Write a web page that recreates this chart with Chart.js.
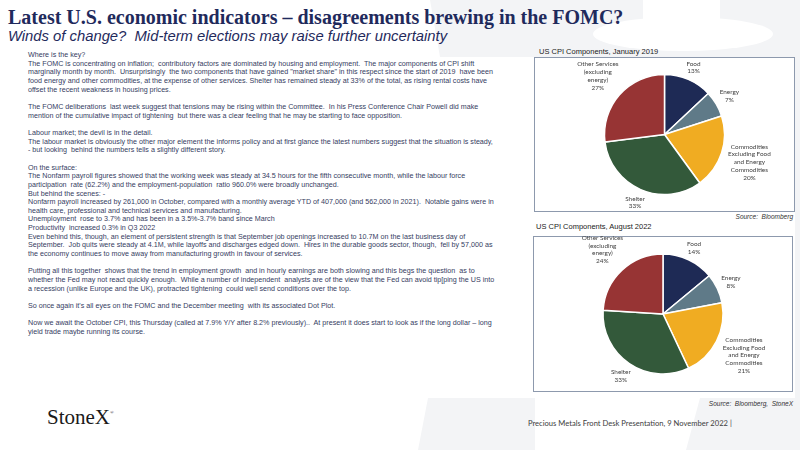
<!DOCTYPE html>
<html>
<head>
<meta charset="utf-8">
<script src="https://cdn.jsdelivr.net/npm/chart.js@4.4.0/dist/chart.umd.min.js"></script>
<style>
  html, body { margin: 0; padding: 0; }
  body { width: 800px; height: 450px; position: relative; overflow: hidden; background: #fff; }
  .abs { position: absolute; white-space: pre; }
  #title { left: 8px; top: 6px; font: bold 20px "Liberation Serif", serif; color: #1f2a5c; }
  #subtitle { left: 8px; top: 28px; font: italic 14.8px "Liberation Sans", Arial, sans-serif; color: #1f2a5c; }
  #body { left: 28px; top: 51px; font: 7.17px "Liberation Sans", Arial, sans-serif; line-height: 8.66px; color: #36405f; }
  .ctitle { font: 7.5px "Liberation Sans", Arial, sans-serif; color: #222; }
  .box { position: absolute; border: 1px solid #8d99ad; background: #fff; box-sizing: border-box; }
  .src { font: italic 6.5px "Liberation Sans", Arial, sans-serif; color: #333; text-align: right; }
  #logo { left: 47px; top: 405px; font: 21px "Liberation Serif", serif; color: #1a1a1a; }
  #logo sup { font-size: 5px; vertical-align: 10px; }
  #footer { left: 528px; top: 418px; font: 7.6px Lato, sans-serif; color: #404040; }
  canvas { position: absolute; }
</style>
</head>
<body>
<svg class="abs" style="left:0;top:0" width="800" height="450">
  <path d="M430 0 L800 0 L800 57 L440 57 Z" fill="#f3f4f6"/>
  <rect x="643" y="0" width="77" height="22" fill="#fff"/>
  <ellipse cx="683" cy="34" rx="90" ry="17" fill="#fff"/>
  <path d="M418 450 L428 398 L535 398 L535 450 Z" fill="#f3f4f6"/>
  <path d="M686 450 L700 398 L800 398 L800 450 Z" fill="#f3f4f6"/>
  <rect x="795" y="0" width="5" height="450" fill="#f3f4f6"/>
</svg>

<div class="abs" id="title">Latest U.S. economic indicators – disagreements brewing in the FOMC?</div>
<div class="abs" id="subtitle">Winds of change?  Mid-term elections may raise further uncertainty</div>

<div class="abs" id="body">Where is the key?
The FOMC is concentrating on inflation;  contributory factors are dominated by housing and employment.  The major components of CPI shift
marginally month by month.  Unsurprisingly  the two components that have gained "market share" in this respect since the start of 2019  have been
food energy and other commodities, at the expense of other services. Shelter has remained steady at 33% of the total, as rising rental costs have
offset the recent weakness in housing prices.

The FOMC deliberations  last week suggest that tensions may be rising within the Committee.  In his Press Conference Chair Powell did make
mention of the cumulative impact of tightening  but there was a clear feeling that he may be starting to face opposition.

Labour market; the devil is in the detail.
The labour market is obviously the other major element the informs policy and at first glance the latest numbers suggest that the situation is steady,
- but looking  behind the numbers tells a slightly different story.

On the surface:
The Nonfarm payroll figures showed that the working week was steady at 34.5 hours for the fifth consecutive month, while the labour force
participation  rate (62.2%) and the employment-population  ratio 960.0% were broadly unchanged.
But behind the scenes: -
Nonfarm payroll increased by 261,000 in October, compared with a monthly average YTD of 407,000 (and 562,000 in 2021).  Notable gains were in
health care, professional and technical services and manufacturing.
Unemployment  rose to 3.7% and has been in a 3.5%-3.7% band since March
Productivity  increased 0.3% in Q3 2022
Even behind this, though, an element of persistent strength is that September job openings increased to 10.7M on the last business day of
September.  Job quits were steady at 4.1M, while layoffs and discharges edged down.  Hires in the durable goods sector, though,  fell by 57,000 as
the economy continues to move away from manufacturing growth in favour of services.

Putting all this together  shows that the trend in employment growth  and in hourly earnings are both slowing and this begs the question  as to
whether the Fed may not react quickly enough.  While a number of independent  analysts are of the view that the Fed can avoid tip[ping the US into
a recession (unlike Europe and the UK), protracted tightening  could well send conditions over the top.

So once again it's all eyes on the FOMC and the December meeting  with its associated Dot Plot.

Now we await the October CPI, this Thursday (called at 7.9% Y/Y after 8.2% previously)..  At present it does start to look as if the long dollar – long
yield trade maybe running its course.</div>

<div class="abs ctitle" style="left:539px;top:47px">US CPI Components, January 2019</div>
<div class="box" style="left:534px;top:57px;width:261px;height:155px"></div>
<canvas id="pie2019" width="261" height="155" style="left:534px;top:57px;width:261px;height:155px"></canvas>
<div class="abs src" style="right:7px;top:213px">Source:  Bloomberg</div>

<div class="abs ctitle" style="left:536px;top:222px">US CPI Components, August 2022</div>
<div class="box" style="left:533px;top:236px;width:260px;height:156px"></div>
<canvas id="pie2022" width="260" height="156" style="left:533px;top:236px;width:260px;height:156px"></canvas>
<div class="abs src" style="right:7px;top:400px">Source:  Bloomberg,  StoneX</div>

<div class="abs" id="logo">StoneX<sup>®</sup></div>
<div class="abs" id="footer">Precious Metals Front Desk Presentation, 9 November 2022 |</div>

<script>
// CPI component shares, clockwise from 12 o'clock
const categories = [
  ["Food"],
  ["Energy"],
  ["Commodities", "Excluding Food", "and Energy", "Commodities"],
  ["Shelter"],
  ["Other Services", "(excluding", "energy)"],
];
const share2019 = [13, 7, 20, 33, 27];
const share2022 = [14, 8, 21, 33, 24];
const sliceColors = ["#1e2a55", "#5f7a88", "#f0ac22", "#33593a", "#973434"];

// outside labels, placed along each slice's middle angle
const outsideLabels = {
  id: "outsideLabels",
  afterDatasetsDraw(chart) {
    const ctx = chart.ctx;
    const meta = chart.getDatasetMeta(0);
    const values = chart.data.datasets[0].data;
    const lineH = 7.8;
    ctx.save();
    ctx.font = "6.4px Lato, sans-serif";
    ctx.fillStyle = "#404040";
    ctx.textAlign = "center";
    ctx.textBaseline = "middle";
    meta.data.forEach((arc, i) => {
      const p = arc.getProps(["x", "y", "startAngle", "endAngle", "outerRadius"], true);
      const lines = chart.data.labels[i].concat([values[i] + "%"]);
      const w = Math.max(...lines.map((l) => ctx.measureText(l).width));
      const h = lines.length * lineH;
      const a = (p.startAngle + p.endAngle) / 2;
      const d = p.outerRadius + 3 + Math.abs(Math.cos(a)) * w / 2 + Math.abs(Math.sin(a)) * h / 2;
      const cx = p.x + Math.cos(a) * d;
      const cy = p.y + Math.sin(a) * d;
      lines.forEach((l, k) => {
        ctx.fillText(l, cx, cy - h / 2 + lineH * (k + 0.5));
      });
    });
    ctx.restore();
  },
};

function makePie(id, values) {
  const ctx = document.getElementById(id).getContext("2d");
  return new Chart(ctx, {
    type: "pie",
    data: {
      labels: categories,
      datasets: [
        {
          data: values,
          backgroundColor: sliceColors,
          borderColor: "#ffffff",
          borderWidth: 1.5,
        },
      ],
    },
    options: {
      responsive: false,
      animation: false,
      radius: 60,
      plugins: {
        legend: { display: false },
        tooltip: { enabled: false },
      },
    },
    plugins: [outsideLabels],
  });
}

makePie("pie2019", share2019);
makePie("pie2022", share2022);
</script>
</body>
</html>
